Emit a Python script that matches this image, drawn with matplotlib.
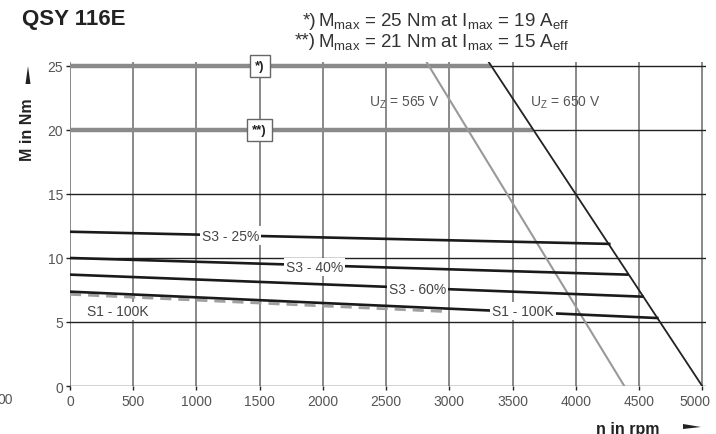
import numpy as np
import matplotlib.pyplot as plt
from matplotlib.patches import Polygon
from matplotlib.transforms import ScaledTranslation

plt.rcParams['font.family'] = ['Liberation Sans', 'DejaVu Sans']
plt.rcParams['mathtext.fontset'] = 'custom'
plt.rcParams['mathtext.rm'] = 'Liberation Sans'
plt.rcParams['mathtext.it'] = 'Liberation Sans'

# S-curves: speed (rpm) at start and end, torque (Nm)
s3_25_n = [0, 4265]
s3_25_m = [12.05, 11.1]
s3_40_n = [0, 4408]
s3_40_m = [10.0, 8.7]
s3_60_n = [0, 4526]
s3_60_m = [8.7, 6.98]
s1_100k_n = [0, 4645]
s1_100k_m = [7.37, 5.31]
s1_dash_n = [0, 3000]
s1_dash_m = [7.16, 5.8]

# voltage limit lines
uz565_n = [2820, 4384]
uz565_m = [25.3, 0]
uz650_n = [3305, 5000]
uz650_m = [25.4, 0]

# Mmax levels
mmax_levels = [25, 20]
mmax_marks = ['*)', '**)']

x_ticks = [0, 500, 1000, 1500, 2000, 2500, 3000, 3500, 4000, 4500, 5000]
y_ticks = [0, 5, 10, 15, 20, 25]

fig = plt.figure(figsize=(7.16, 4.35), dpi=100)
ax = fig.add_axes([0.0978, 0.1103, 0.8882, 0.7447])
ax.set_xlim(0, 5030)
ax.set_ylim(0, 25.3)
for s in ax.spines.values():
    s.set_visible(False)

# grid
for x in x_ticks:
    ax.plot([x, x], [0, 25.3], color='#808080', lw=1.3, zorder=1)
for y in y_ticks:
    ax.plot([0, 5030], [y, y], color='#222222', lw=1.0, zorder=1)

# Mmax thick gray lines, ending at 650 V line
for lev, mk in zip(mmax_levels, mmax_marks):
    n_end = np.interp(lev, uz650_m[::-1], uz650_n[::-1])
    ax.plot([0, n_end], [lev, lev], color='#8a8a8a', lw=3.2, solid_capstyle='butt', zorder=2)
    ax.text(1500, lev, mk, ha='center', va='center', fontsize=9.5, fontweight='bold',
            color='#222222', zorder=6,
            bbox=dict(boxstyle='square,pad=0.4', fc='white', ec='#666666', lw=1.0))

# voltage lines
ax.plot(uz565_n, uz565_m, color='#999999', lw=1.5, zorder=3)
ax.plot(uz650_n, uz650_m, color='#222222', lw=1.3, zorder=3)
ax.text(2646, 22.2, r'U$_\mathrm{Z}$ = 565 V', ha='center', va='center', fontsize=10, color='#555555')
ax.text(3915, 22.2, r'U$_\mathrm{Z}$ = 650 V', ha='center', va='center', fontsize=10, color='#555555')

# characteristic curves
ax.plot(s1_dash_n, s1_dash_m, color='#a0a0a0', lw=2.0, ls=(0, (4, 2.5)), zorder=3)
for n, m in [(s3_25_n, s3_25_m), (s3_40_n, s3_40_m), (s3_60_n, s3_60_m), (s1_100k_n, s1_100k_m)]:
    ax.plot(n, m, color='#1a1a1a', lw=1.9, zorder=4)

lbl = dict(ha='center', va='center', fontsize=10, color='#444444', zorder=5,
           bbox=dict(boxstyle='square,pad=0.15', fc='white', ec='none'))
ax.text(1270, 11.75, 'S3 - 25%', **lbl)
ax.text(1935, 9.3, 'S3 - 40%', **lbl)
ax.text(2750, 7.6, 'S3 - 60%', **lbl)
ax.text(3580, 5.86, 'S1 - 100K', **lbl)
ax.text(380, 5.86, 'S1 - 100K', **lbl)

ax.set_xticks(x_ticks)
ax.set_yticks(y_ticks)
ax.tick_params(axis='both', length=3, width=1, color='#222222', labelcolor='#555555', labelsize=10)
ax.tick_params(axis='x', pad=3)
ax.tick_params(axis='y', pad=2)
# last x label sits a little left of its gridline in the original
last = ax.get_xticklabels()[-1]
last.set_transform(last.get_transform() + ScaledTranslation(-7 / 100, 0, fig.dpi_scale_trans))

# titles and notes
fig.text(22 / 716, 1 - 20 / 435, 'QSY 116E', fontsize=16, fontweight='bold', color='#222222',
         ha='left', va='center')
fig.text(316 / 716, 1 - 21 / 435, '*)', fontsize=13.5, color='#333333', ha='right', va='center')
fig.text(318 / 716, 1 - 21 / 435,
         r'M$_\mathrm{max}$ = 25 Nm at I$_\mathrm{max}$ = 19 A$_\mathrm{eff}$',
         fontsize=13.5, color='#333333', ha='left', va='center')
fig.text(316 / 716, 1 - 42 / 435, '**)', fontsize=13.5, color='#333333', ha='right', va='center')
fig.text(318 / 716, 1 - 42 / 435,
         r'M$_\mathrm{max}$ = 21 Nm at I$_\mathrm{max}$ = 15 A$_\mathrm{eff}$',
         fontsize=13.5, color='#333333', ha='left', va='center')

# axis labels with arrows
fig.text(28 / 716, 1 - 130 / 435, 'M in Nm', rotation=90, fontsize=11.5, fontweight='bold',
         color='#222222', ha='center', va='center')
fig.patches.append(Polygon([[25.5 / 716, 1 - 85 / 435], [30.5 / 716, 1 - 85 / 435],
                            [28 / 716, 1 - 67 / 435]], closed=True, fc='#222222', ec='none',
                           transform=fig.transFigure))
fig.text(628 / 716, 1 - 430 / 435, 'n in rpm', fontsize=11.5, fontweight='bold',
         color='#222222', ha='center', va='center')
fig.patches.append(Polygon([[683 / 716, 1 - 425 / 435], [683 / 716, 1 - 430 / 435],
                            [701 / 716, 1 - 428 / 435]], closed=True, fc='#222222', ec='none',
                           transform=fig.transFigure))
fig.text(-3 / 716, 1 - 400 / 435, '00', fontsize=10, color='#555555', ha='left', va='center')

fig.savefig('out.png', dpi=100)
